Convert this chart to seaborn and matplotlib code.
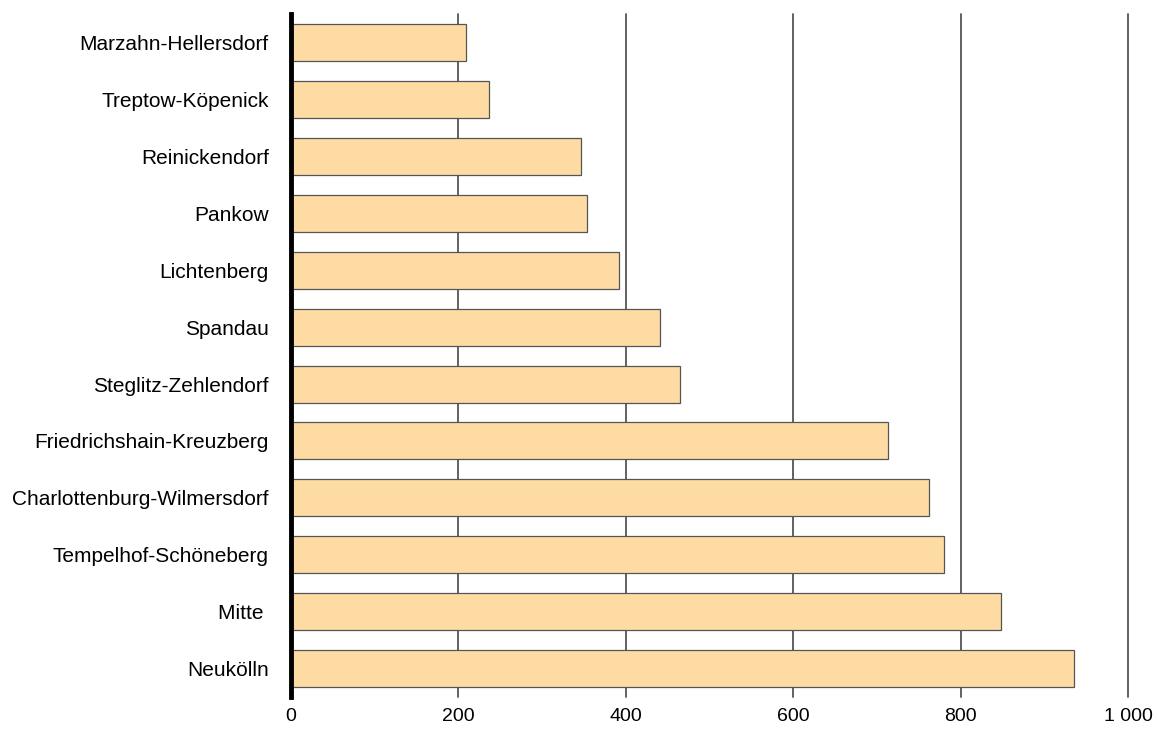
import matplotlib
matplotlib.use("Agg")
import matplotlib.pyplot as plt
import matplotlib.ticker as mticker
import pandas as pd
import seaborn as sns

# Bezirke (top to bottom) and values
districts = ["Marzahn-Hellersdorf", "Treptow-Köpenick", "Reinickendorf", "Pankow",
             "Lichtenberg", "Spandau", "Steglitz-Zehlendorf", "Friedrichshain-Kreuzberg",
             "Charlottenburg-Wilmersdorf", "Tempelhof-Schöneberg", "Mitte ", "Neukölln"]
values = [209, 237, 346, 354, 392, 441, 465, 713, 762, 780, 848, 935]
x_ticks = [0, 200, 400, 600, 800, 1000]

df = pd.DataFrame({"district": districts, "value": values})

sns.set_style("white")
plt.rcParams["font.family"] = ["Liberation Sans", "DejaVu Sans"]

fig = plt.figure(figsize=(11.58, 7.4), dpi=100)
ax = fig.add_axes([0.2513, 0.058, 0.7228, 0.923])

sns.barplot(data=df, x="value", y="district", orient="h", color="#FFDBA4",
            edgecolor="#555555", linewidth=0.9, width=0.65, saturation=1, ax=ax, zorder=3)

ax.set_xlim(0, 1000)
ax.set_ylim(len(districts) - 0.5, -0.5)
ax.set_xticks(x_ticks)
ax.xaxis.set_major_formatter(mticker.FuncFormatter(lambda v, p: f"{int(v):,}".replace(",", " ")))
ax.grid(axis="x", color="#555555", linewidth=1.3, zorder=0)
ax.set_axisbelow(True)
for gl in ax.get_xgridlines():
    gl.set_clip_on(False)

for s in ["top", "right", "bottom"]:
    ax.spines[s].set_visible(False)
ax.spines["left"].set_color("black")
ax.spines["left"].set_linewidth(3.5)
ax.spines["left"].set_zorder(5)

ax.tick_params(axis="both", length=0, labelcolor="black")
ax.tick_params(axis="x", labelsize=14, pad=8)
ax.tick_params(axis="y", labelsize=15, pad=16)
ax.set_xlabel("")
ax.set_ylabel("")

plt.savefig("out.png", dpi=100)
